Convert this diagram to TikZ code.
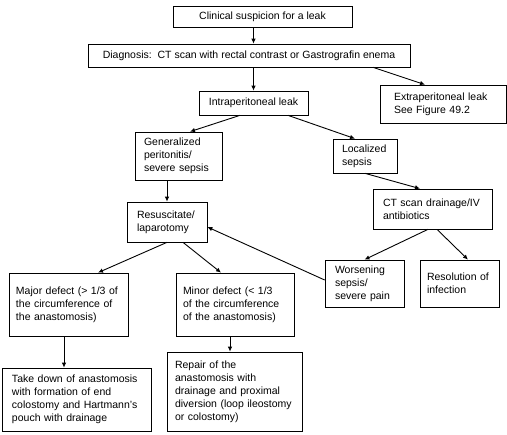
\documentclass[tikz,border=0pt]{standalone}
\usepackage{fontspec}
\setmainfont{Liberation Sans}
\usepackage{tikz}
\usetikzlibrary{arrows.meta}

\begin{document}
\begin{tikzpicture}[x=1pt, y=-1pt, font=\fontsize{10.5}{13}\selectfont,
  box/.style={draw, line width=0.7pt, inner ysep=2pt, align=left},
  arr/.style={line width=0.9pt, -{Latex[length=5pt,width=4.5pt]}}]
  \useasboundingbox (0,0) rectangle (507,435);

  % top of the chart
  \node[box, align=center, minimum width=179pt, minimum height=21pt] (clin) at (262.5,16.5) {Clinical suspicion for a leak};
  \node[box, align=center, minimum width=322pt, minimum height=23pt] (diag) at (249,55.5) {Diagnosis:\ \ CT scan with rectal contrast or Gastrografin enema};
  \node[box, align=center, minimum width=109pt, minimum height=24pt] (intra) at (253.5,103) {Intraperitoneal leak};
  \node[box, text width=98pt, inner xsep=14pt, minimum height=38pt] (extra) at (443,104) {Extraperitoneal leak\\See Figure 49.2};

  % left branch
  \node[box, text width=69pt, inner xsep=9pt, minimum height=48pt] (gen) at (178.5,156) {Generalized\\peritonitis/\\severe sepsis};
  \node[box, text width=60pt, inner xsep=10pt, minimum height=40pt] (res) at (167,222) {Resuscitate/\\laparotomy};
  \node[box, text width=105pt, inner xsep=7pt, minimum height=63pt] (maj) at (68.5,304.5) {Major defect (> 1/3 of\\the circumference of\\the anastomosis)};
  \node[box, text width=104pt, inner xsep=7pt, minimum height=63pt] (min) at (235,304.5) {Minor defect (< 1/3\\of the circumference\\of the anastomosis)};
  \node[box, text width=129pt, inner xsep=10pt, minimum height=63pt] (take) at (76.5,399.5) {Take down of anastomosis\\with formation of end\\colostomy and Hartmann's\\pouch with drainage};
  \node[box, text width=119pt, inner xsep=8pt, minimum height=79pt] (rep) at (234.5,391.5) {Repair of the\\anastomosis with\\drainage and proximal\\diversion (loop ileostomy\\or colostomy)};

  % right branch
  \node[box, text width=46pt, inner xsep=9pt, minimum height=34pt] (loc) at (365,156) {Localized\\sepsis};
  \node[box, text width=99pt, inner xsep=10pt, minimum height=40pt] (ct) at (432.5,209) {CT scan drainage/IV\\antibiotics};
  \node[box, text width=59pt, inner xsep=10pt, minimum height=47pt] (wor) at (364.5,283.5) {Worsening\\sepsis/\\severe pain};
  \node[box, text width=65pt, inner xsep=7pt, minimum height=47pt] (resol) at (459.5,283.5) {Resolution of\\infection};

  % connectors
  \draw[arr] (clin.south -| intra.north) -- (diag.north -| intra.north);
  \draw[arr] (diag.south -| intra.north) -- (intra.north);
  \draw[arr] ([xshift=124pt]diag.south) -- ([xshift=-18pt]extra.north);
  \draw[arr] ([xshift=-13.5pt]intra.south) -- ([xshift=11.5pt]gen.north);
  \draw[arr] ([xshift=34.5pt]intra.south) -- ([xshift=-10pt]loc.north);
  \draw[arr] (gen.south -| res.north) -- (res.north);
  \draw[arr] (loc.south) -- ([xshift=-12.5pt]ct.north);
  \draw[arr] ([xshift=-4.5pt]ct.south) -- (wor.north);
  \draw[arr] ([xshift=4.5pt]ct.south) -- ([xshift=8.5pt]resol.north);
  \draw[arr] ([yshift=3.5pt]wor.west) -- ([yshift=-5pt]res.east);
  \draw[arr] (res.south) -- ([xshift=29.5pt]maj.north);
  \draw[arr] ([xshift=16pt]res.south) -- ([xshift=-14pt]min.north);
  \draw[arr] ([xshift=-4.5pt]maj.south) -- ([xshift=-4.5pt]maj.south |- take.north);
  \draw[arr] ([xshift=-5pt]min.south) -- ([xshift=-5pt]min.south |- rep.north);
\end{tikzpicture}
\end{document}
